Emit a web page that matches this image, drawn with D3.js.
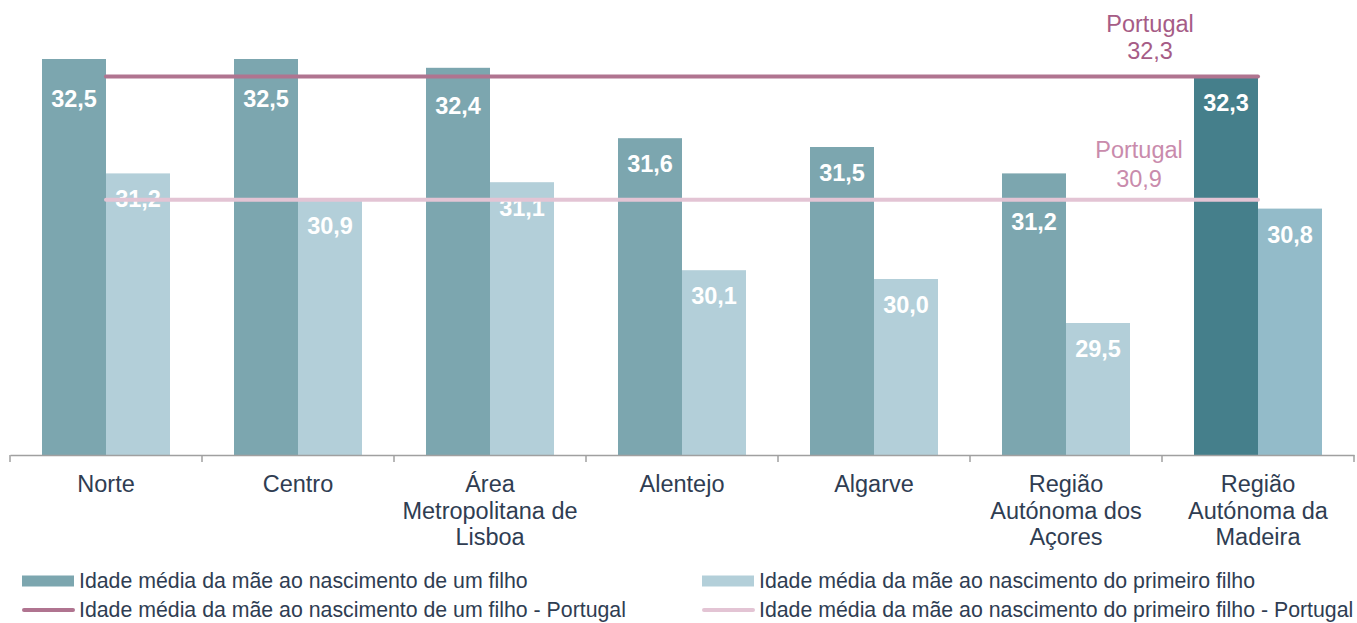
<!DOCTYPE html>
<html>
<head>
<meta charset="utf-8">
<script src="https://cdn.jsdelivr.net/npm/d3@7"></script>
<style>
  html, body { margin: 0; padding: 0; background: #fff; }
  svg { display: block; font-family: "Liberation Sans", Arial, sans-serif; }
</style>
</head>
<body>
<div id="chart"></div>
<script>
const categories = [
  'Norte',
  'Centro',
  'Área\nMetropolitana de\nLisboa',
  'Alentejo',
  'Algarve',
  'Região\nAutónoma dos\nAçores',
  'Região\nAutónoma da\nMadeira'
];
const idadeUmFilho = [32.5, 32.5, 32.4, 31.6, 31.5, 31.2, 32.3];
const idadePrimeiroFilho = [31.2, 30.9, 31.1, 30.1, 30.0, 29.5, 30.8];
const portugalUmFilho = 32.3;
const portugalPrimeiroFilho = 30.9;
const yDomain = [28, 33];

const seriesNames = [
  'Idade média da mãe ao nascimento de um filho',
  'Idade média da mãe ao nascimento do primeiro filho',
  'Idade média da mãe ao nascimento de um filho - Portugal',
  'Idade média da mãe ao nascimento do primeiro filho - Portugal'
];

const width = 1357;
const height = 623;
const colDark = '#7ca6af';
const colLight = '#b3cfd9';
const colDarkHi = '#457f8b';
const colLightHi = '#93bbc9';
const colLineDark = '#b07490';
const colLineLight = '#e3c4d4';
const textColor = '#2f3d52';

const svg = d3.select('#chart')
  .append('svg')
    .attr('width', width)
    .attr('height', height);

const x0 = d3.scaleBand()
  .domain(categories)
  .range([10, 1354])
  .paddingInner(1 / 3)
  .paddingOuter(1 / 6);

const x1 = d3.scaleBand()
  .domain(['um', 'primeiro'])
  .range([0, x0.bandwidth()]);

const y = d3.scaleLinear()
  .domain(yDomain)
  .range([455, 15]);

const rows = categories.map((c, i) => ({
  cat: c,
  um: idadeUmFilho[i],
  primeiro: idadePrimeiroFilho[i],
  hi: i === categories.length - 1
}));

const fmt = v => d3.format('.1f')(v).replace('.', ',');

// bars
const groups = svg.append('g')
  .selectAll('g')
  .data(rows)
  .enter()
  .append('g')
    .attr('transform', d => `translate(${x0(d.cat)},0)`);

groups.selectAll('rect')
  .data(d => [
    {key: 'um', value: d.um, hi: d.hi},
    {key: 'primeiro', value: d.primeiro, hi: d.hi}
  ])
  .enter()
  .append('rect')
    .attr('x', d => x1(d.key))
    .attr('y', d => y(d.value))
    .attr('width', x1.bandwidth())
    .attr('height', d => y(yDomain[0]) - y(d.value))
    .style('fill', d => d.key === 'um' ? (d.hi ? colDarkHi : colDark) : (d.hi ? colLightHi : colLight));

// reference lines (from first group centre to last group centre)
const xStart = x0(categories[0]) + x0.bandwidth() / 2;
const xEnd = x0(categories[categories.length - 1]) + x0.bandwidth() / 2;

svg.append('line')
  .attr('x1', xStart).attr('x2', xEnd)
  .attr('y1', y(portugalPrimeiroFilho)).attr('y2', y(portugalPrimeiroFilho))
  .attr('stroke', colLineLight)
  .attr('stroke-width', 4)
  .attr('stroke-linecap', 'round');

svg.append('line')
  .attr('x1', xStart).attr('x2', xEnd)
  .attr('y1', y(portugalUmFilho)).attr('y2', y(portugalUmFilho))
  .attr('stroke', colLineDark)
  .attr('stroke-width', 4)
  .attr('stroke-linecap', 'round');

// value labels, pushed below the reference line when they would sit on it
const refFor = key => key === 'um' ? [y(portugalUmFilho), y(portugalPrimeiroFilho)] : [];
groups.selectAll('text')
  .data(d => [
    {key: 'um', value: d.um},
    {key: 'primeiro', value: d.primeiro}
  ])
  .enter()
  .append('text')
    .attr('x', d => x1(d.key) + x1.bandwidth() / 2)
    .attr('y', d => {
      let base = y(d.value) + 34;
      refFor(d.key).forEach(ly => {
        if (base - ly > -12 && base - ly < 30) {
          base = Math.max(ly + 30, y(d.value) + 46);
        }
      });
      return base;
    })
    .attr('text-anchor', 'middle')
    .style('fill', '#fff')
    .style('font-weight', 'bold')
    .style('font-size', '23.5px')
    .text(d => fmt(d.value));

// Portugal labels
const lastX = x0(categories[categories.length - 1]);
const pDark = svg.append('text')
  .attr('text-anchor', 'middle')
  .style('fill', '#a65c86')
  .style('font-size', '23.5px');
pDark.append('tspan').attr('x', lastX - 44).attr('y', y(portugalUmFilho) - 45).text('Portugal');
pDark.append('tspan').attr('x', lastX - 44).attr('y', y(portugalUmFilho) - 18).text(fmt(portugalUmFilho));

const pLight = svg.append('text')
  .attr('text-anchor', 'middle')
  .style('fill', '#c98bac')
  .style('font-size', '23.5px');
pLight.append('tspan').attr('x', lastX - 55).attr('y', y(portugalPrimeiroFilho) - 42).text('Portugal');
pLight.append('tspan').attr('x', lastX - 55).attr('y', y(portugalPrimeiroFilho) - 13).text(fmt(portugalPrimeiroFilho));

// x axis
const step = x0.step();
const boundaries = d3.range(categories.length + 1).map(i => x0.range()[0] + i * step);
const axis = svg.append('g')
  .attr('transform', `translate(0,${y(yDomain[0])})`)
  .call(d3.axisBottom(x0).tickSize(0).tickFormat(''));
axis.select('.domain').attr('stroke', '#a0a0a0').attr('stroke-width', 1.5);
axis.selectAll('.boundary')
  .data(boundaries)
  .enter()
  .append('line')
    .attr('x1', d => d).attr('x2', d => d)
    .attr('y1', 0).attr('y2', 7)
    .attr('stroke', '#a0a0a0')
    .attr('stroke-width', 1.5);

const catLabels = svg.append('g')
  .selectAll('text')
  .data(categories)
  .enter()
  .append('text')
    .attr('text-anchor', 'middle')
    .style('fill', textColor)
    .style('font-size', '23.5px');
catLabels.selectAll('tspan')
  .data(d => d.split('\n').map(t => ({t, c: d})))
  .enter()
  .append('tspan')
    .attr('x', d => x0(d.c) + x0.bandwidth() / 2)
    .attr('y', (d, i) => 492 + i * 26.7)
    .text(d => d.t);

// legend
const legendItems = [
  {name: seriesNames[0], type: 'rect', color: colDark, x: 22, y: 581},
  {name: seriesNames[1], type: 'rect', color: colLight, x: 702, y: 581},
  {name: seriesNames[2], type: 'line', color: colLineDark, x: 22, y: 610},
  {name: seriesNames[3], type: 'line', color: colLineLight, x: 702, y: 610}
];
const legend = svg.append('g')
  .selectAll('g')
  .data(legendItems)
  .enter()
  .append('g')
    .attr('transform', d => `translate(${d.x},${d.y})`);

legend.filter(d => d.type === 'rect')
  .append('rect')
    .attr('x', 0).attr('y', -5.5)
    .attr('width', 52).attr('height', 11)
    .style('fill', d => d.color);
legend.filter(d => d.type === 'line')
  .append('line')
    .attr('x1', 2).attr('x2', 51)
    .attr('y1', 0).attr('y2', 0)
    .attr('stroke', d => d.color)
    .attr('stroke-width', 4)
    .attr('stroke-linecap', 'round');
legend.append('text')
  .attr('x', 57)
  .attr('y', 7)
  .style('fill', textColor)
  .style('font-size', '21.3px')
  .text(d => d.name);
</script>
</body>
</html>
